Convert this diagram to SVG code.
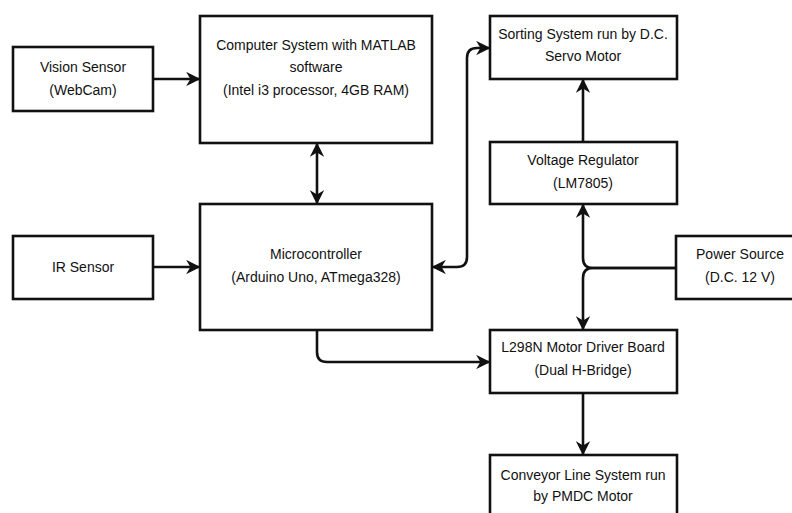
<svg xmlns="http://www.w3.org/2000/svg" width="792" height="513" viewBox="0 0 792 513">
<style>
.box{fill:#fff;stroke:#111;stroke-width:2.6}
.t{font-family:"Liberation Sans",Arial,sans-serif;font-size:14px;fill:#111;text-anchor:middle}
.c{fill:none;stroke:#111;stroke-width:2.6}
</style>
<defs>
<marker id="ah" viewBox="0 0 10 10" refX="9" refY="5" markerWidth="5.5" markerHeight="5.5" orient="auto-start-reverse" markerUnits="strokeWidth">
<path d="M0,0 L10,5 L0,10 L3,5 z" fill="#111"/>
</marker>
</defs>
<rect width="792" height="513" fill="#fff"/>
<g id="connectors">
<path class="c" d="M153,79 H199" marker-end="url(#ah)"/>
<path class="c" d="M153,267 H199" marker-end="url(#ah)"/>
<path class="c" d="M317,144 V203" marker-start="url(#ah)" marker-end="url(#ah)"/>
<path class="c" d="M489,48 H477 Q467,48 467,58 V257 Q467,267 457,267 H433" marker-start="url(#ah)" marker-end="url(#ah)"/>
<path class="c" d="M317,330 V352 Q317,362 327,362 H489" marker-end="url(#ah)"/>
<path class="c" d="M583,142 V80" marker-end="url(#ah)"/>
<path class="c" d="M676,268 H593 Q583,268 583,258 V205" marker-end="url(#ah)"/>
<path class="c" d="M676,268 H593 Q583,268 583,278 V329" marker-end="url(#ah)"/>
<path class="c" d="M583,393 V454" marker-end="url(#ah)"/>
</g>
<g id="vision">
<rect class="box" x="13" y="47" width="140" height="64"/>
<text class="t" x="83" y="72">Vision Sensor</text>
<text class="t" x="83" y="95">(WebCam)</text>
</g>
<g id="computer">
<rect class="box" x="200" y="16" width="232" height="127"/>
<text class="t" x="316" y="50">Computer System with MATLAB</text>
<text class="t" x="316" y="72">software</text>
<text class="t" x="316" y="95">(Intel i3 processor, 4GB RAM)</text>
</g>
<g id="ir">
<rect class="box" x="13" y="236" width="140" height="63"/>
<text class="t" x="83" y="272">IR Sensor</text>
</g>
<g id="micro">
<rect class="box" x="200" y="204" width="232" height="126"/>
<text class="t" x="316" y="259">Microcontroller</text>
<text class="t" x="316" y="282">(Arduino Uno, ATmega328)</text>
</g>
<g id="sorting">
<rect class="box" x="490" y="16" width="187" height="63"/>
<text class="t" x="583" y="39">Sorting System run by D.C.</text>
<text class="t" x="583" y="61">Servo Motor</text>
</g>
<g id="regulator">
<rect class="box" x="490" y="142" width="187" height="62"/>
<text class="t" x="583" y="165">Voltage Regulator</text>
<text class="t" x="583" y="188">(LM7805)</text>
</g>
<g id="power">
<rect class="box" x="676" y="236" width="124" height="63"/>
<text class="t" x="740" y="259">Power Source</text>
<text class="t" x="740" y="282">(D.C. 12 V)</text>
</g>
<g id="driver">
<rect class="box" x="490" y="330" width="187" height="63"/>
<text class="t" x="583" y="352">L298N Motor Driver Board</text>
<text class="t" x="583" y="375">(Dual H-Bridge)</text>
</g>
<g id="conveyor">
<rect class="box" x="490" y="455" width="187" height="70"/>
<text class="t" x="583" y="480">Conveyor Line System run</text>
<text class="t" x="583" y="501">by PMDC Motor</text>
</g>
</svg>
